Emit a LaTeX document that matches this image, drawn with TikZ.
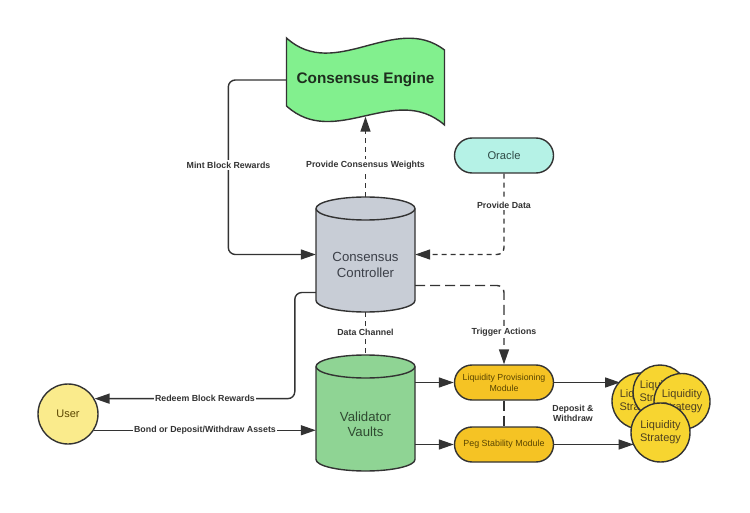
\documentclass[tikz,border=0pt]{standalone}
\usepackage{fontspec}
\setmainfont{Liberation Sans}
\usetikzlibrary{arrows.meta}
\definecolor{ln}{HTML}{333333}
\definecolor{cefill}{HTML}{82F08E}
\definecolor{ccfill}{HTML}{C8CDD6}
\definecolor{orfill}{HTML}{B5F2E6}
\definecolor{vvfill}{HTML}{8FD494}
\definecolor{modfill}{HTML}{F5C324}
\definecolor{userfill}{HTML}{FAEB8C}
\definecolor{stfill}{HTML}{F7D530}
\definecolor{cetext}{HTML}{1E2E1E}
\definecolor{cctext}{HTML}{3B3F48}
\definecolor{vvtext}{HTML}{2F4A31}
\definecolor{ortext}{HTML}{2F4A46}
\definecolor{modtext}{HTML}{5A4500}
\definecolor{sttext}{HTML}{4D4020}
\newcommand\mycyl[5]{%
 \pgfmathsetmacro\cylrx{(#2-#1)/2}%
 \path[outl,fill=#5] (#1,#3+11.5) -- (#1,#4-11.5) arc[start angle=180,end angle=360,x radius=\cylrx*1pt,y radius=11.5pt] -- (#2,#3+11.5) arc[start angle=0,end angle=180,x radius=\cylrx*1pt,y radius=11.5pt] -- cycle;
 \draw[outl] (#1,#3+11.5) arc[start angle=180,end angle=360,x radius=\cylrx*1pt,y radius=11.5pt];
}
\begin{document}
\begin{tikzpicture}[x=1pt,y=-1pt,
 outl/.style={draw=ln,line width=1.4pt},
 conn/.style={draw=ln,line width=1.4pt,rounded corners=7pt},
 arr/.style={-{Triangle[length=15pt,width=10pt]}},
 sdash/.style={dash pattern=on 5pt off 4pt},
 ldash/.style={dash pattern=on 10pt off 5pt},
 lbl/.style={fill=white,inner sep=1.5pt,text=ln,font=\fontsize{8.8}{10}\selectfont\bfseries},
 box/.style={inner sep=0pt,minimum width=#1},
 stadium/.style={outl,rounded corners=17.5pt,minimum width=99pt,minimum height=35pt,inner sep=0pt,align=center},
 strat/.style={outl,circle,fill=stfill,inner sep=0pt,align=center,text=sttext,font=\fontsize{11}{13}\selectfont},
 cyltext/.style={align=center,font=\fontsize{13.2}{15.5}\selectfont}
]
\useasboundingbox[fill=white] (0,0) rectangle (750,513);

% Consensus Engine (wave shape)
\path[outl,fill=cefill] (286.5,38) .. controls (335,82) and (395,12) .. (444.5,50) -- (444.5,125) .. controls (395,82) and (335,150) .. (286.5,106) -- cycle;
\node[box=158pt,minimum height=73pt,text=cetext,font=\fontsize{15.3}{18}\selectfont\bfseries] (ce) at (365.5,80) {Consensus Engine};

% Consensus Controller
\mycyl{316}{415}{197}{312}{ccfill}
\node[box=99pt,minimum height=115pt] (cc) at (365.5,254.5) {};
\node[cyltext,text=cctext] (cct) at (365.5,265) {Consensus\\Controller};

% Validator Vaults
\mycyl{316}{415}{355}{471}{vvfill}
\node[box=99pt,minimum height=116pt] (vv) at (365.5,413) {};
\node[cyltext,text=vvtext] (vvt) at (365.5,424.5) {Validator\\Vaults};

% Oracle
\node[stadium,fill=orfill,text=ortext,font=\fontsize{11.2}{13}\selectfont] (or) at (504,155.5) {Oracle};

% Modules
\node[stadium,fill=modfill,text=modtext,font=\fontsize{8.8}{11}\selectfont] (lpm) at (504,382.5) {Liquidity Provisioning\\Module};
\node[stadium,fill=modfill,text=modtext,font=\fontsize{8.9}{11}\selectfont] (psm) at (504,444.5) {Peg Stability Module};

% User
\node[outl,circle,fill=userfill,minimum size=60pt,inner sep=0pt,text=modtext,font=\fontsize{11}{13}\selectfont] (user) at (68,414) {User};

% Liquidity strategies
\node[strat,minimum size=56pt] (s1) at (640,401) {Liquidity\\Strategy};
\node[strat,minimum size=54pt] (s2) at (660,392) {Liquidity\\Strategy};
\node[strat,minimum size=56pt] (s3) at (682,401.5) {Liquidity\\Strategy};
\node[strat,minimum size=59pt] (s4) at (660.5,432.5) {Liquidity\\Strategy};

% Connectors
\draw[conn,arr] (ce.west) -- ++(-58,0) |- (cc.west);
\draw[conn,sdash,arr] (cc.north) -- (ce.south);
\draw[conn,sdash,arr] (or.south) |- (cc.east);
\draw[conn,ldash,arr] ([yshift=-31pt]cc.east) -| (lpm.north);
\draw[conn,sdash] (cc.south) -- (vv.north);
\draw[conn,arr] ([yshift=-38pt]cc.west) -- ++(-21,0) |- (user.30);
\draw[conn,arr] (user.-32) -- (user.-32 -| vv.west);
\draw[conn,arr] (lpm.west -| vv.east) -- (lpm.west);
\draw[conn,arr] (psm.west -| vv.east) -- (psm.west);
\draw[conn,ldash] (lpm.south) -- (psm.north);
\draw[conn,arr] (lpm.east) -- (lpm.east -| s1.134);
\draw[conn,arr] (psm.east) -- (psm.east -| s4.207);

% Labels
\node[lbl] (l1) at (228.5,165) {Mint Block Rewards};
\node[lbl] (l2) at (365.5,165) {Provide Consensus Weights};
\node[lbl] (l3) at (504,205) {Provide Data};
\node[lbl] (l4) at (504,332) {Trigger Actions};
\node[lbl] (l5) at (365.5,332) {Data Channel};
\node[lbl] (l6) at (205,398.5) {Redeem Block Rewards};
\node[lbl] (l7) at (205,430) {Bond or Deposit/Withdraw Assets};
\node[lbl,fill=none,align=center] (l8) at (573,413) {Deposit \&\\Withdraw};
\end{tikzpicture}
\end{document}
